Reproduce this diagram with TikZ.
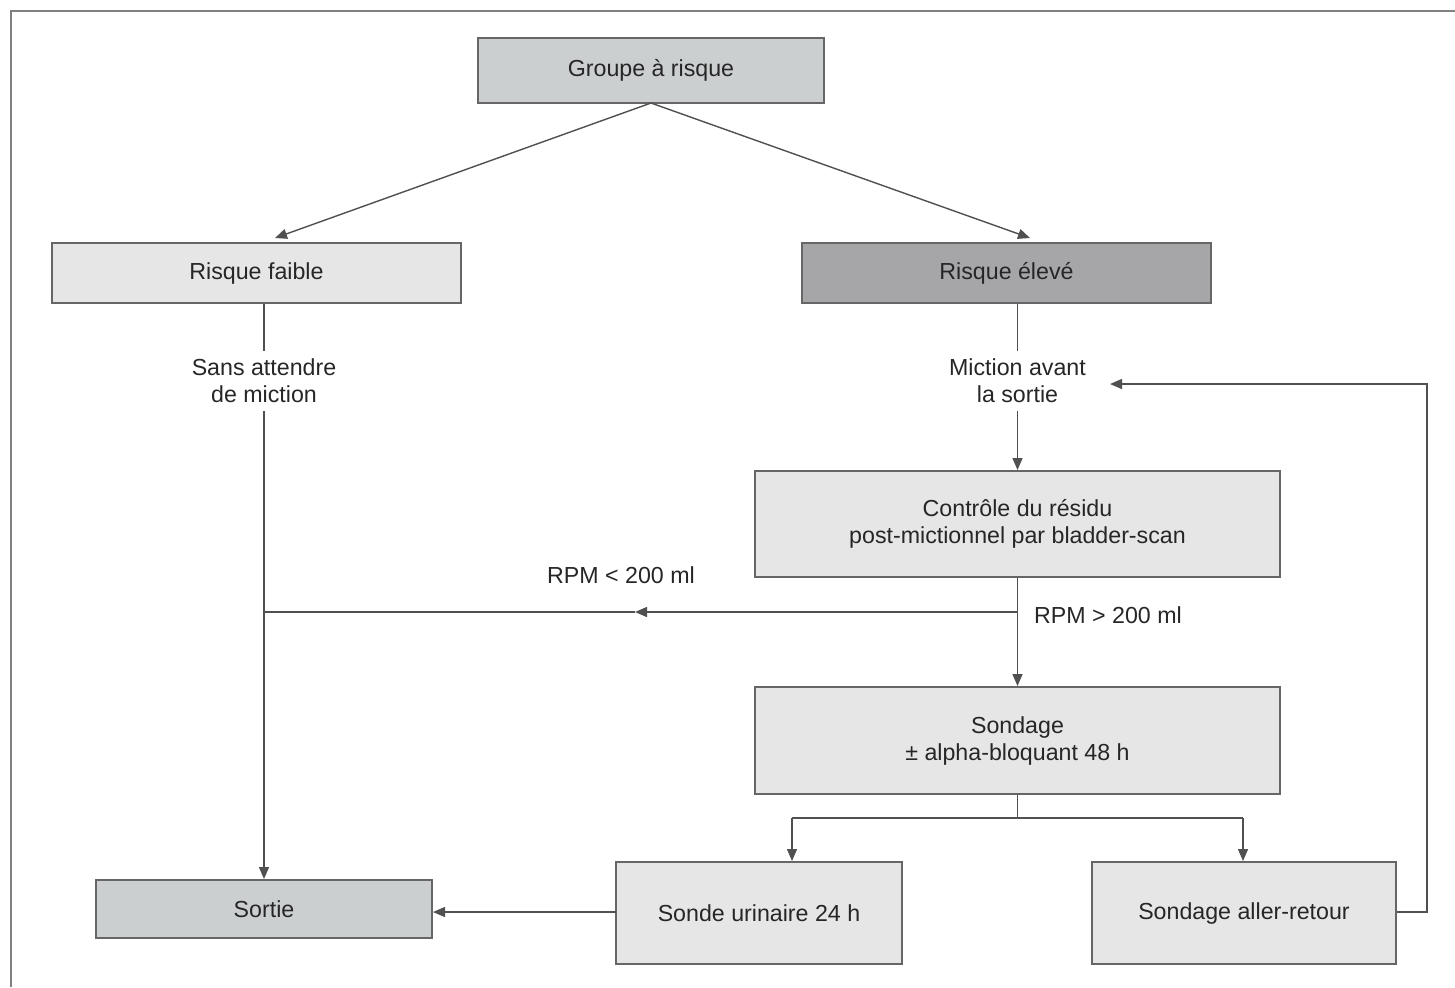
\documentclass[tikz,border=0pt]{standalone}
\usepackage{fontspec}
\setmainfont{Liberation Sans}
\usetikzlibrary{arrows.meta}
\definecolor{boxmid}{HTML}{CBCFD0}
\definecolor{boxlight}{HTML}{E6E6E6}
\definecolor{boxdark}{HTML}{A6A6A9}
\definecolor{edgegray}{HTML}{666666}
\definecolor{linegray}{HTML}{505050}
\definecolor{txtgray}{HTML}{262626}
\begin{document}
\begin{tikzpicture}[x=0.5pt,y=-0.5pt,
  every node/.style={font=\fontsize{11.6}{13.5}\selectfont, text=txtgray, align=center},
  fbox/.style={draw=edgegray, line width=1pt, inner sep=0pt, anchor=center},
  lbl/.style={inner sep=0pt},
  conn/.style={draw=linegray, line width=0.7pt},
  arr/.style={conn, -{Triangle[length=6pt,width=5pt]}}]
\useasboundingbox (0,0) rectangle (1455,987);
\draw[draw=gray, line width=1.2pt] (11,987) -- (11,11) -- (1455,11);
% boxes
\node[fbox, fill=boxmid, minimum width=173pt, minimum height=32.5pt] (grp) at (651,70.5) {Groupe à risque};
\node[fbox, fill=boxlight, minimum width=204.5pt, minimum height=30pt] (rf) at (256.5,273) {Risque faible};
\node[fbox, fill=boxdark, minimum width=204.5pt, minimum height=30pt] (re) at (1006.5,273) {Risque élevé};
\node[fbox, fill=boxlight, minimum width=262.5pt, minimum height=53pt] (ctl) at (1017.5,524) {Contrôle du résidu\\post-mictionnel par bladder-scan};
\node[fbox, fill=boxlight, minimum width=262.5pt, minimum height=53.5pt] (sdg) at (1017.5,740.5) {Sondage\\± alpha-bloquant 48 h};
\node[fbox, fill=boxmid, minimum width=168pt, minimum height=29pt] (so) at (264,909) {Sortie};
\node[fbox, fill=boxlight, minimum width=143pt, minimum height=51pt] (su) at (759,913) {Sonde urinaire 24 h};
\node[fbox, fill=boxlight, minimum width=152pt, minimum height=51pt] (sar) at (1244,913) {Sondage aller-retour};
% labels
\node[lbl, inner ysep=4pt] (saw) at (264,381) {Sans attendre\\de miction};
\node[lbl, inner ysep=4pt] (mav) at (1017.5,381) {Miction avant\\la sortie};
\node[lbl] (lt) at (621,575) {RPM < 200 ml};
\node[lbl] (gt) at (1108,615) {RPM > 200 ml};
% coordinates
\coordinate (j1) at (1017.5,612);
\coordinate (j2) at (264,612);
\coordinate (jm) at (635,612);
\coordinate (b1) at (1017.5,818);
\coordinate (bl) at (792,818);
\coordinate (br) at (1243,818);
\coordinate (s1) at (616,912);
\coordinate (l1) at (1427,912);
\coordinate (l2) at (1427,384);
\coordinate (l3) at (1110,384);
\coordinate (ga) at (651,103);
\coordinate (ta) at (275,238);
\coordinate (tb) at (1030,238);
% connectors
\draw[arr] (ga) -- (ta);
\draw[arr] (ga) -- (tb);
\draw[conn] (rf.south -| so.north) -- (saw.north);
\draw[arr] (saw.south) -- (so.north);
\draw[conn] (re.south -| ctl.north) -- (mav.north);
\draw[arr] (mav.south) -- (ctl.north);
\draw[arr] (ctl.south) -- (sdg.north);
\draw[arr] (j1) -- (jm);
\draw[conn] (jm) -- (j2);
\draw[conn] (sdg.south) -- (b1);
\draw[conn] (bl) -- (br);
\draw[arr] (bl) -- (bl |- su.north);
\draw[arr] (br) -- (br |- sar.north);
\draw[arr] (s1) -- (so.east |- s1);
\draw[arr] (sar.east |- l1) -- (l1) -- (l2) -- (l3);
\end{tikzpicture}
\end{document}
